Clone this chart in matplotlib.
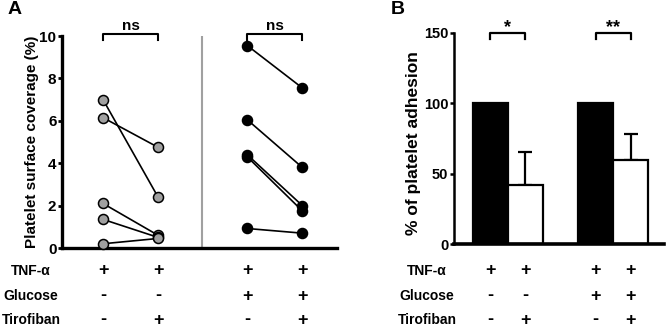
import numpy as np
import matplotlib
matplotlib.use("Agg")
import matplotlib.pyplot as plt
from matplotlib.transforms import blended_transform_factory

plt.rcParams['font.family'] = ['Liberation Sans', 'DejaVu Sans']
plt.rcParams['font.weight'] = 'bold'

# Panel A data (platelet surface coverage, %)
ctrl_before = [7.0, 6.15, 2.1, 1.35, 0.2]
ctrl_after = [2.4, 4.75, 0.6, 0.5, 0.45]
gluc_before = [9.55, 6.05, 4.4, 4.3, 0.92]
gluc_after = [7.55, 3.8, 2.0, 1.75, 0.7]
a_positions = [0, 1, 2.62, 3.62]
a_signif = ['ns', 'ns']

# Panel B data (% of platelet adhesion)
b_positions = [0, 1, 3, 4]
b_means = [100, 42, 100, 60]
b_err = [0, 23.5, 0, 18]
b_colors = ['black', 'white', 'black', 'white']
b_signif = ['*', '**']

# condition table
row_labels = ['TNF-α', 'Glucose', 'Tirofiban']
row_signs = [['+', '+', '+', '+'],
             ['-', '-', '+', '+'],
             ['-', '+', '-', '+']]
row_y = [271, 296, 320]  # pixel rows from top

W, H = 669, 328
fig = plt.figure(figsize=(W / 100, H / 100), dpi=100)

axA = fig.add_axes([62 / W, 80 / H, 275 / W, 212 / H])
axB = fig.add_axes([454 / W, 84 / H, 210 / W, 211 / H])

# ---- Panel A ----
for i in range(len(ctrl_before)):
    axA.plot(a_positions[:2], [ctrl_before[i], ctrl_after[i]], color='black', lw=1.2, zorder=2)
    axA.plot(a_positions[2:], [gluc_before[i], gluc_after[i]], color='black', lw=1.2, zorder=2)
axA.scatter([a_positions[0]] * 5 + [a_positions[1]] * 5, ctrl_before + ctrl_after,
            s=52, color='#a0a0a0', edgecolor='black', linewidth=1.1, zorder=3, clip_on=False)
axA.scatter([a_positions[2]] * 5 + [a_positions[3]] * 5, gluc_before + gluc_after,
            s=52, color='black', edgecolor='black', linewidth=1.1, zorder=3, clip_on=False)
axA.plot([1.8, 1.8], [0, 10], color='#a0a0a0', lw=1.5, zorder=1)

axA.set_xlim(-0.745, 4.25)
axA.set_ylim(0, 10)
axA.set_yticks([0, 2, 4, 6, 8, 10])
axA.set_xticks([])
axA.tick_params(axis='y', labelsize=11, width=2, length=3, pad=1)
for lab in axA.get_yticklabels():
    lab.set_fontweight('bold')
axA.spines['top'].set_visible(False)
axA.spines['right'].set_visible(False)
axA.spines['left'].set_linewidth(2.4)
axA.spines['bottom'].set_linewidth(2.4)
axA.set_ylabel('Platelet surface coverage (%)', fontsize=11, fontweight='bold')
axA.yaxis.set_label_coords(-0.085, 0.5)

for k, txt in enumerate(a_signif):
    x0, x1 = a_positions[2 * k], a_positions[2 * k + 1]
    axA.plot([x0, x0, x1, x1], [9.8, 10.1, 10.1, 9.8], color='black', lw=1.5, clip_on=False)
    axA.text((x0 + x1) / 2, 10.15, txt, ha='center', va='bottom', fontsize=11, fontweight='bold')

# ---- Panel B ----
axB.bar(b_positions, b_means, width=1.0, color=b_colors, edgecolor='black', linewidth=1.6, zorder=2)
for x, m, e in zip(b_positions, b_means, b_err):
    if e > 0:
        axB.errorbar(x, m, yerr=[[0], [e]], color='black', lw=1.6, capsize=5, capthick=1.6, zorder=1)
axB.set_xlim(-1.03, 4.95)
axB.set_ylim(0, 150)
axB.set_yticks([0, 50, 100, 150])
axB.set_xticks([])
axB.tick_params(axis='y', labelsize=10.5, width=1.8, length=3, pad=1)
for lab in axB.get_yticklabels():
    lab.set_fontweight('bold')
axB.spines['top'].set_visible(False)
axB.spines['right'].set_visible(False)
axB.spines['left'].set_linewidth(1.8)
axB.spines['bottom'].set_linewidth(2.6)
axB.set_ylabel('% of platelet adhesion', fontsize=12.5, fontweight='bold')
axB.yaxis.set_label_coords(-0.155, 0.48)

for k, txt in enumerate(b_signif):
    x0, x1 = b_positions[2 * k], b_positions[2 * k + 1]
    axB.plot([x0, x0, x1, x1], [146, 150, 150, 146], color='black', lw=1.6, clip_on=False)
    axB.text((x0 + x1) / 2, 148, txt, ha='center', va='bottom', fontsize=13, fontweight='bold')

# ---- condition tables ----
for ax, positions, label_x in [(axA, a_positions, 31 / W), (axB, b_positions, 427 / W)]:
    tr = blended_transform_factory(ax.transData, fig.transFigure)
    for r, (lab, signs) in enumerate(zip(row_labels, row_signs)):
        yf = 1 - row_y[r] / H
        fig.text(label_x, yf, lab, ha='center', va='center', fontsize=10, fontweight='bold')
        for x, s in zip(positions, signs):
            ax.text(x, yf, s, transform=tr, ha='center', va='center',
                    fontsize=13, fontweight='bold')

fig.text(8 / W, 1 - 10 / H, 'A', ha='left', va='center', fontsize=14, fontweight='bold')
fig.text(391 / W, 1 - 10 / H, 'B', ha='left', va='center', fontsize=14, fontweight='bold')

fig.savefig('out.png', dpi=100)
